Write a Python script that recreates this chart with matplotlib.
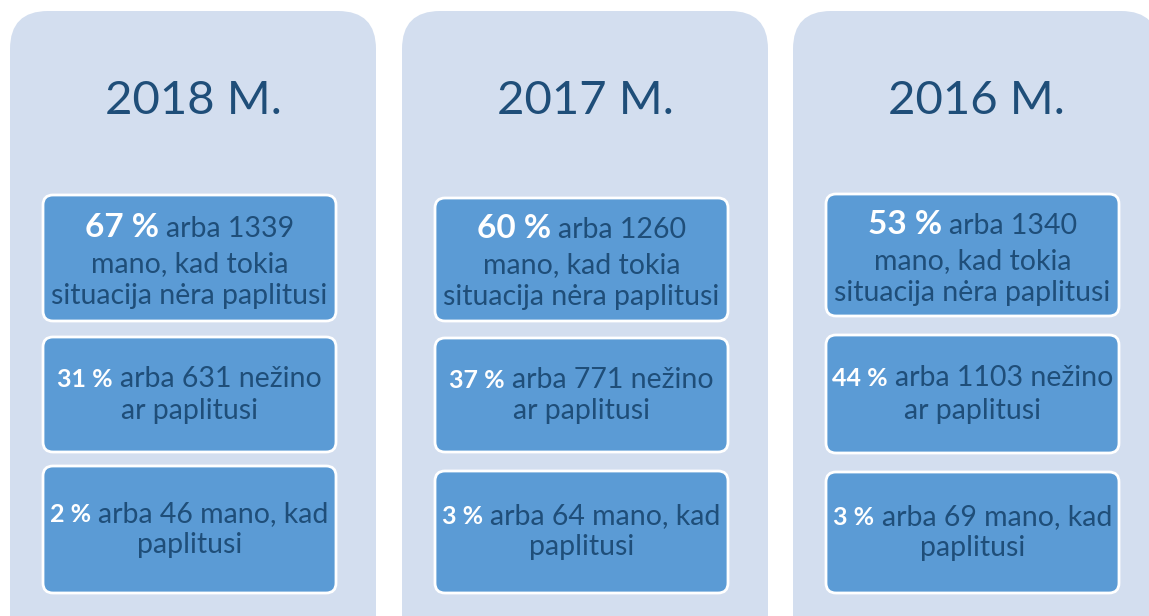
import matplotlib.pyplot as plt
from matplotlib.patches import FancyBboxPatch

W, H = 1149, 616
FONT = ["Lato", "DejaVu Sans"]
PANEL_BG = "#D3DEEF"
BOX_BG = "#5B9BD5"
DARK = "#1F4E79"

years = ["2018 M.", "2017 M.", "2016 M."]
top_pct = ["67 %", "60 %", "53 %"]
top_count = [1339, 1260, 1340]
mid_pct = ["31 %", "37 %", "44 %"]
mid_count = [631, 771, 1103]
low_pct = ["2 %", "3 %", "3 %"]
low_count = [46, 64, 69]

panel_x = [10, 402, 793]
panel_w = 366
box_dx = 33
box_w = 293
box_rows = [
    [(195, 321), (337, 452), (466, 593)],
    [(198, 321), (338, 452), (471, 593)],
    [(194, 316), (335, 453), (472, 593)],
]

REG = 20.5

fig = plt.figure(figsize=(W / 100, H / 100), dpi=100)
ax = fig.add_axes([0, 0, 1, 1])
ax.set_xlim(0, W)
ax.set_ylim(H, 0)
ax.axis("off")
renderer = fig.canvas.get_renderer()


def text_width(s, size, weight):
    t = ax.text(0, 0, s, fontsize=size, fontweight=weight, family=FONT)
    bb = t.get_window_extent(renderer=renderer)
    t.remove()
    return bb.width


def mixed_line(cx, y, bold, rest, bsize, rsize):
    # bold white part followed by regular dark part, centred together
    gap = text_width("a a", rsize, "normal") - text_width("aa", rsize, "normal")
    wb = text_width(bold, bsize, "bold")
    wr = text_width(rest, rsize, "normal")
    x0 = cx - (wb + gap + wr) / 2
    ax.text(x0, y, bold, fontsize=bsize, fontweight="bold", color="white",
            family=FONT, ha="left", va="baseline")
    ax.text(x0 + wb + gap, y, rest, fontsize=rsize, color=DARK,
            family=FONT, ha="left", va="baseline")


def plain_line(cx, y, s, size):
    ax.text(cx, y, s, fontsize=size, color=DARK, family=FONT,
            ha="center", va="baseline")


for i, year in enumerate(years):
    px = panel_x[i]
    ax.add_patch(FancyBboxPatch((px, 11), panel_w, 700,
                                boxstyle="round,pad=0,rounding_size=38",
                                fc=PANEL_BG, ec="none"))
    cx = px + panel_w / 2
    ax.text(cx, 101, year, fontsize=34, color=DARK, family=FONT,
            ha="center", va="center")

    bx = px + box_dx
    for y0, y1 in box_rows[i]:
        ax.add_patch(FancyBboxPatch((bx, y0), box_w, y1 - y0,
                                    boxstyle="round,pad=0,rounding_size=10",
                                    fc=BOX_BG, ec="white", lw=2))
    bcx = bx + box_w / 2

    (a0, a1), (b0, b1), (c0, c1) = box_rows[i]
    mid_a = (a0 + a1) / 2
    mixed_line(bcx, mid_a - 21, top_pct[i], f"arba {top_count[i]}", 24, REG)
    plain_line(bcx, mid_a + 14, "mano, kad tokia", REG)
    plain_line(bcx, mid_a + 46, "situacija nėra paplitusi", REG)

    mid_b = (b0 + b1) / 2
    mixed_line(bcx, mid_b - 7.5, mid_pct[i], f"arba {mid_count[i]} nežino", 18, REG)
    plain_line(bcx, mid_b + 24.5, "ar paplitusi", REG)

    mid_c = (c0 + c1) / 2
    mixed_line(bcx, mid_c - 7.5, low_pct[i], f"arba {low_count[i]} mano, kad", 18, REG)
    plain_line(bcx, mid_c + 23.5, "paplitusi", REG)

fig.savefig("out.png", dpi=100, facecolor="white")
